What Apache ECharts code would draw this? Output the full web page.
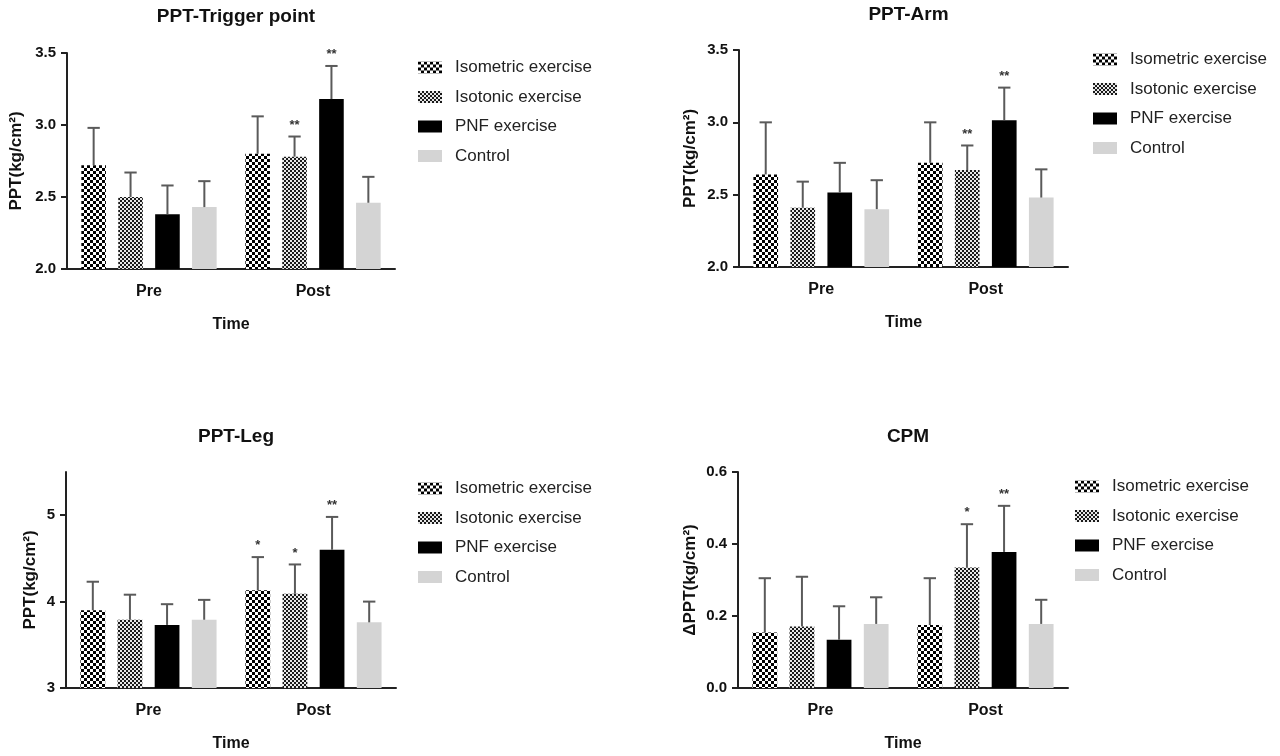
<!DOCTYPE html>
<html>
<head>
<meta charset="utf-8">
<script src="https://cdn.jsdelivr.net/npm/echarts@6/dist/echarts.min.js"></script>
<style>
html,body{margin:0;padding:0;background:#fff;}
#c{width:1280px;height:756px;}
</style>
</head>
<body>
<div id="c"></div>
<script>
// ---- data ----
const categories = ['Pre', 'Post'];
const seriesNames = ['Isometric exercise', 'Isotonic exercise', 'PNF exercise', 'Control'];

// PPT-Trigger point (per group: [Pre, Post])
const triggerMean = [[2.72, 2.80], [2.50, 2.78], [2.38, 3.18], [2.43, 2.46]];
const triggerErr = [[0.26, 0.26], [0.17, 0.14], [0.20, 0.23], [0.18, 0.18]];
const triggerStars = [['', ''], ['', '**'], ['', '**'], ['', '']];

// PPT-Arm
const armMean = [[2.64, 2.72], [2.41, 2.67], [2.515, 3.015], [2.40, 2.48]];
const armErr = [[0.36, 0.28], [0.18, 0.17], [0.205, 0.225], [0.20, 0.195]];
const armStars = [['', ''], ['', '**'], ['', '**'], ['', '']];

// PPT-Leg
const legMean = [[3.90, 4.13], [3.79, 4.09], [3.73, 4.60], [3.79, 3.76]];
const legErr = [[0.33, 0.385], [0.29, 0.34], [0.24, 0.38], [0.23, 0.24]];
const legStars = [['', '*'], ['', '*'], ['', '**'], ['', '']];

// CPM
const cpmMean = [[0.154, 0.175], [0.171, 0.335], [0.134, 0.378], [0.178, 0.178]];
const cpmErr = [[0.151, 0.13], [0.138, 0.12], [0.093, 0.128], [0.074, 0.067]];
const cpmStars = [['', ''], ['', '*'], ['', '**'], ['', '']];

// tick labels
const triggerTicks = [2.0, 2.5, 3.0, 3.5];
const armTicks = [2.0, 2.5, 3.0, 3.5];
const legTicks = [3, 4, 5];
const cpmTicks = [0.0, 0.2, 0.4, 0.6];

// ---- patterns ----
function checker(cell, c1, c2) {
  const cv = document.createElement('canvas');
  cv.width = cell * 2; cv.height = cell * 2;
  const ctx = cv.getContext('2d');
  ctx.fillStyle = c2; ctx.fillRect(0, 0, cell * 2, cell * 2);
  ctx.fillStyle = c1;
  ctx.fillRect(0, 0, cell, cell);
  ctx.fillRect(cell, cell, cell, cell);
  return { image: cv, repeat: 'repeat' };
}
const fills = [
  checker(3, '#000000', '#ffffff'),
  checker(2, '#1a1a1a', '#e8e8e8'),
  '#000000',
  '#d4d4d4'
];

const FONT = "'Liberation Sans', Arial, sans-serif";
const panels = [
  { title: 'PPT-Trigger point', mean: triggerMean, err: triggerErr, stars: triggerStars, ticks: triggerTicks,
    min: 2, max: 3.5, interval: 0.5, dec: 1, yname: 'PPT(kg/cm²)', nameGap: 42, titleTop: 2,
    grid: { left: 67, top: 53, width: 328, height: 216 }, legend: { left: 413, top: 54 } },
  { title: 'PPT-Arm', mean: armMean, err: armErr, stars: armStars, ticks: armTicks,
    min: 2, max: 3.5, interval: 0.5, dec: 1, yname: 'PPT(kg/cm²)', nameGap: 40, titleTop: 0,
    grid: { left: 739, top: 50, width: 329, height: 217 }, legend: { left: 1088, top: 46 } },
  { title: 'PPT-Leg', mean: legMean, err: legErr, stars: legStars, ticks: legTicks,
    min: 3, max: 5.5, interval: 1, dec: 0, yname: 'PPT(kg/cm²)', nameGap: 27, titleTop: 422,
    grid: { left: 66, top: 472, width: 330, height: 216 }, legend: { left: 413, top: 475 } },
  { title: 'CPM', mean: cpmMean, err: cpmErr, stars: cpmStars, ticks: cpmTicks,
    min: 0, max: 0.6, interval: 0.2, dec: 1, yname: 'ΔPPT(kg/cm²)', nameGap: 39, titleTop: 422,
    grid: { left: 738, top: 472, width: 330, height: 216 }, legend: { left: 1070, top: 473 } }
];

const option = {
  animation: false,
  backgroundColor: '#fff',
  title: [], legend: [], grid: [], xAxis: [], yAxis: [], series: []
};

panels.forEach((p, pi) => {
  option.title.push({
    text: p.title, left: p.grid.left + p.grid.width / 2, top: p.titleTop, textAlign: 'center',
    textStyle: { fontFamily: FONT, fontWeight: 'bold', fontSize: 19, color: '#111' }
  });
  option.legend.push({
    orient: 'vertical', left: p.legend.left, top: p.legend.top, itemWidth: 24, itemHeight: 12, itemGap: 12.5,
    icon: 'rect', selectedMode: false, data: seriesNames,
    textStyle: { fontFamily: FONT, fontSize: 17, color: '#222', padding: [0, 0, 0, 8] }
  });
  option.grid.push(Object.assign({ containLabel: false }, p.grid));
  option.xAxis.push({
    type: 'category', gridIndex: pi, data: categories,
    name: 'Time', nameLocation: 'middle', nameGap: 48,
    nameTextStyle: { fontFamily: FONT, fontWeight: 'bold', fontSize: 16, color: '#111' },
    axisLine: { lineStyle: { color: '#222', width: 2 } },
    axisTick: { alignWithLabel: true, length: 6, lineStyle: { color: '#222', width: 2 } },
    axisLabel: { margin: 15, fontFamily: FONT, fontWeight: 'bold', fontSize: 16, color: '#111' }
  });
  option.yAxis.push({
    type: 'value', gridIndex: pi, min: p.min, max: p.max, interval: p.interval,
    name: p.yname, nameLocation: 'middle', nameGap: p.nameGap,
    nameTextStyle: { fontFamily: FONT, fontWeight: 'bold', fontSize: 17, color: '#111' },
    splitLine: { show: false },
    axisLine: { show: true, lineStyle: { color: '#222', width: 2 } },
    axisTick: { show: true, length: 6, lineStyle: { color: '#222', width: 2 }, customValues: p.ticks },
    axisLabel: { margin: 11, fontFamily: FONT, fontWeight: 'bold', fontSize: 15, color: '#111',
      customValues: p.ticks, formatter: v => Number(v).toFixed(p.dec) }
  });
  seriesNames.forEach((name, si) => {
    option.series.push({
      type: 'bar', name: name, xAxisIndex: pi, yAxisIndex: pi,
      data: p.mean[si], barWidth: '15%', barGap: '50%',
      itemStyle: { color: fills[si] }
    });
  });
  seriesNames.forEach((name, si) => {
    option.series.push({
      type: 'custom', name: name + ' err', xAxisIndex: pi, yAxisIndex: pi, z: 5,
      data: categories.map((c, ci) => [ci, p.mean[si][ci], p.err[si][ci]]),
      encode: { x: 0, y: 1 },
      renderItem: function (params, api) {
        const ci = api.value(0), m = api.value(1), e = api.value(2);
        const base = api.coord([ci, m]);
        const top = api.coord([ci, m + e]);
        const band = api.size([1, 0])[0];
        const bw = band * 0.15;
        const x = base[0] + (-2.25 + 1.5 * si) * bw;
        const cap = bw * 0.25;
        const star = p.stars[si][params.dataIndex];
        const children = [
          { type: 'line', shape: { x1: x, y1: base[1], x2: x, y2: top[1] }, style: { stroke: '#5a5a5a', lineWidth: 2 } },
          { type: 'line', shape: { x1: x - cap, y1: top[1], x2: x + cap, y2: top[1] }, style: { stroke: '#5a5a5a', lineWidth: 2 } }
        ];
        if (star) {
          children.push({ type: 'text', x: x, y: top[1] - 5,
            style: { text: star, fill: '#333', font: 'bold 13px ' + FONT, align: 'center', verticalAlign: 'bottom' } });
        }
        return { type: 'group', children: children };
      }
    });
  });
});

const chart = echarts.init(document.getElementById('c'), null, { renderer: 'canvas' });
chart.setOption(option);
</script>
</body>
</html>
